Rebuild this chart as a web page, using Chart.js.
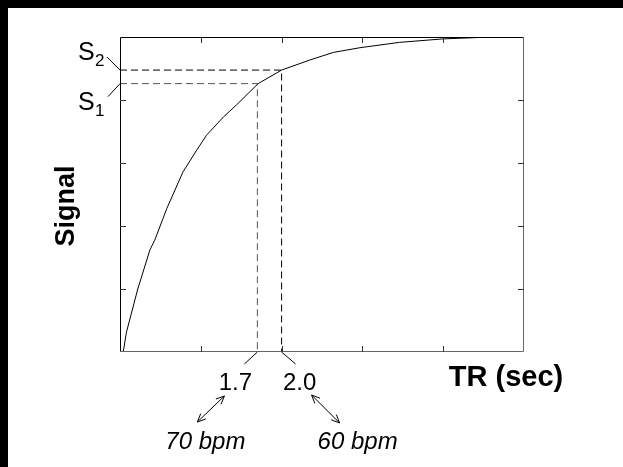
<!DOCTYPE html>
<html>
<head>
<meta charset="utf-8">
<script src="https://cdn.jsdelivr.net/npm/chart.js@4"></script>
<style>
  html, body { margin: 0; padding: 0; background: #000; width: 623px; height: 467px; overflow: hidden; }
  #wrap { position: absolute; left: 8px; top: 8px; width: 615px; height: 459px; background: #fff; }
  canvas { display: block; }
</style>
</head>
<body>
<div id="wrap"><canvas id="signal-chart" width="615" height="459"></canvas></div>
<script>
// Кривата на сигнала, прочетена от картинката
const trValues = [0.04, 0.08, 0.22, 0.37, 0.43, 0.58, 0.78, 0.95, 1.07, 1.28, 1.44, 1.71, 2.0, 2.35, 2.64, 2.97, 3.46, 4.0, 4.5, 5.0];
const signalValues = [0, 0.063, 0.2, 0.324, 0.355, 0.456, 0.572, 0.641, 0.688, 0.746, 0.784, 0.852, 0.895, 0.927, 0.951, 0.966, 0.983, 0.994, 0.999, 1.0];

// Маркираните TR стойности и съответните сигнали
const markerTR = [1.7, 2.0];
const markerSignal = [0.852, 0.895];
const markerTRLabels = ['1.7', '2.0'];
const markerSignalLabels = ['1', '2'];
const markerBpm = ['70 bpm', '60 bpm'];

// Деления по осите (без надписи)
const xTicks = [1, 2, 3, 4];
const yTicks = [0.2, 0.4, 0.6, 0.8];

const curve = trValues.map((t, i) => ({ x: t, y: signalValues[i] }));

const guideSets = markerTR.map((t, i) => ({
    data: [{ x: 0, y: markerSignal[i] }, { x: t, y: markerSignal[i] }, { x: t, y: 0 }],
    borderColor: i === 0 ? '#555' : '#000',
    borderWidth: 1,
    borderDash: [7, 4],
    pointRadius: 0,
    showLine: true,
    fill: false
}));

function arrow(ctx, x1, y1, x2, y2) {
    const head = 9, ang = 0.42;
    ctx.beginPath();
    ctx.moveTo(x1, y1);
    ctx.lineTo(x2, y2);
    [[x1, y1, x2, y2], [x2, y2, x1, y1]].forEach(([ax, ay, bx, by]) => {
        const a = Math.atan2(ay - by, ax - bx);
        ctx.moveTo(ax - head * Math.cos(a - ang), ay - head * Math.sin(a - ang));
        ctx.lineTo(ax, ay);
        ctx.lineTo(ax - head * Math.cos(a + ang), ay - head * Math.sin(a + ang));
    });
    ctx.stroke();
}

const decorations = {
    id: 'decorations',
    afterDatasetsDraw(chart) {
        const ctx = chart.ctx;
        const xs = chart.scales.x, ys = chart.scales.y;
        const { left, right, top, bottom } = chart.chartArea;
        const px = v => xs.getPixelForValue(v);
        const py = v => ys.getPixelForValue(v);

        ctx.save();
        ctx.lineWidth = 1;

        // рамка
        ctx.strokeStyle = '#000';
        ctx.beginPath();
        ctx.moveTo(left + 0.5, bottom);
        ctx.lineTo(left + 0.5, top + 0.5);
        ctx.lineTo(right, top + 0.5);
        ctx.stroke();
        ctx.strokeStyle = '#666';
        ctx.beginPath();
        ctx.moveTo(right - 0.5, top);
        ctx.lineTo(right - 0.5, bottom - 0.5);
        ctx.lineTo(left, bottom - 0.5);
        ctx.stroke();

        // вътрешни деления
        const tl = 6;
        ctx.strokeStyle = '#333';
        ctx.beginPath();
        xTicks.forEach(v => {
            const x = Math.round(px(v)) + 0.5;
            ctx.moveTo(x, top); ctx.lineTo(x, top + tl);
            ctx.moveTo(x, bottom); ctx.lineTo(x, bottom - tl);
        });
        yTicks.forEach(v => {
            const y = Math.round(py(v)) + 0.5;
            ctx.moveTo(left, y); ctx.lineTo(left + tl, y);
            ctx.moveTo(right, y); ctx.lineTo(right - tl, y);
        });
        ctx.stroke();

        // водещи линии към надписите
        ctx.strokeStyle = '#000';
        ctx.beginPath();
        ctx.moveTo(left, py(markerSignal[1])); ctx.lineTo(left - 13, py(markerSignal[1]) - 13);
        ctx.moveTo(left, py(markerSignal[0])); ctx.lineTo(left - 12, py(markerSignal[0]) + 13);
        ctx.moveTo(px(markerTR[0]), bottom); ctx.lineTo(px(markerTR[0]) - 13, bottom + 12);
        ctx.moveTo(px(markerTR[1]), bottom); ctx.lineTo(px(markerTR[1]) + 14, bottom + 12);
        ctx.stroke();

        // стрелки към bpm
        arrow(ctx, px(markerTR[0]) - 33, bottom + 44, px(markerTR[0]) - 60, bottom + 70);
        arrow(ctx, px(markerTR[1]) + 30, bottom + 43, px(markerTR[1]) + 58, bottom + 71);

        ctx.fillStyle = '#000';
        ctx.textAlign = 'center';
        ctx.textBaseline = 'middle';

        // TR стойности
        ctx.font = '24px "Liberation Sans", Arial, sans-serif';
        ctx.fillText(markerTRLabels[0], px(markerTR[0]) - 22, bottom + 31);
        ctx.fillText(markerTRLabels[1], px(markerTR[1]) + 18, bottom + 31);

        // bpm
        ctx.font = 'italic 24px "Liberation Sans", Arial, sans-serif';
        ctx.fillText(markerBpm[0], px(markerTR[0]) - 52, bottom + 90);
        ctx.fillText(markerBpm[1], px(markerTR[1]) + 76, bottom + 90);

        // S1, S2
        ctx.textAlign = 'left';
        ctx.textBaseline = 'alphabetic';
        const sLabel = (sub, y) => {
            ctx.font = '25px "Liberation Sans", Arial, sans-serif';
            ctx.fillText('S', 70, y);
            ctx.font = '17px "Liberation Sans", Arial, sans-serif';
            ctx.fillText(sub, 87, y + 6);
        };
        sLabel(markerSignalLabels[1], 52);
        sLabel(markerSignalLabels[0], 102);

        // заглавия на осите
        ctx.textAlign = 'center';
        ctx.textBaseline = 'middle';
        ctx.font = 'bold 29px "Liberation Sans", Arial, sans-serif';
        ctx.fillText('TR (sec)', 498, 370);
        ctx.font = 'bold 27px "Liberation Sans", Arial, sans-serif';
        ctx.translate(59, 198);
        ctx.rotate(-Math.PI / 2);
        ctx.fillText('Signal', 0, 0);

        ctx.restore();
    }
};

new Chart(document.getElementById('signal-chart'), {
    type: 'scatter',
    data: {
        datasets: [{
            data: curve,
            borderColor: '#000',
            borderWidth: 1,
            pointRadius: 0,
            showLine: true,
            fill: false,
            tension: 0
        }, ...guideSets]
    },
    options: {
        responsive: false,
        animation: false,
        events: [],
        layout: { padding: { left: 112, top: 29, right: 99, bottom: 115 } },
        plugins: { legend: { display: false }, tooltip: { enabled: false } },
        scales: {
            x: { type: 'linear', min: 0, max: 5, display: false },
            y: { type: 'linear', min: 0, max: 1, display: false }
        }
    },
    plugins: [decorations]
});
</script>
</body>
</html>
